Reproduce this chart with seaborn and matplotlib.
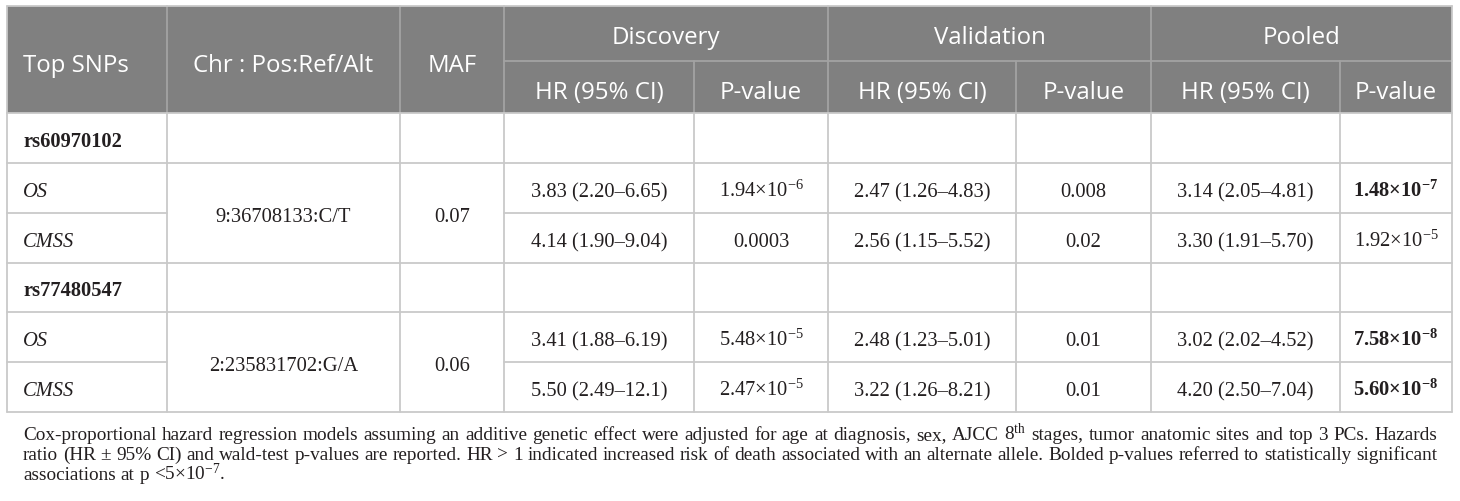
import matplotlib
matplotlib.use("Agg")
import matplotlib.pyplot as plt
import seaborn as sns
from matplotlib.patches import Rectangle

# ---------------------------------------------------------
# Data
# ---------------------------------------------------------
first_headers = ["Top SNPs", "Chr : Pos:Ref/Alt", "MAF"]
groups = ["Discovery", "Validation", "Pooled"]
sub_headers = ["HR (95% CI)", "P-value"]

snps = ["rs60970102", "rs77480547"]
positions = ["9:36708133:C/T", "2:235831702:G/A"]
maf = ["0.07", "0.06"]
outcomes = ["OS", "CMSS"]

# one entry per (snp, outcome): rs1 OS, rs1 CMSS, rs2 OS, rs2 CMSS
disc_hr = ["3.83 (2.20–6.65)", "4.14 (1.90–9.04)", "3.41 (1.88–6.19)", "5.50 (2.49–12.1)"]
disc_p = ["1.94×10^-6", "0.0003", "5.48×10^-5", "2.47×10^-5"]
val_hr = ["2.47 (1.26–4.83)", "2.56 (1.15–5.52)", "2.48 (1.23–5.01)", "3.22 (1.26–8.21)"]
val_p = ["0.008", "0.02", "0.01", "0.01"]
pool_hr = ["3.14 (2.05–4.81)", "3.30 (1.91–5.70)", "3.02 (2.02–4.52)", "4.20 (2.50–7.04)"]
pool_p = ["1.48×10^-7", "1.92×10^-5", "7.58×10^-8", "5.60×10^-8"]
pool_bold = [True, False, True, True]

footnote = [
    "Cox-proportional hazard regression models assuming an additive genetic effect were adjusted for age at "
    "diagnosis, sex, AJCC 8^th stages, tumor anatomic sites and top 3 PCs. Hazards",
    "ratio (HR ± 95% CI) and wald-test p-values are reported. HR > 1 indicated increased risk of death "
    "associated with an alternate allele. Bolded p-values referred to statistically significant",
    "associations at p <5×10^-7.",
]

# ---------------------------------------------------------
# Style
# ---------------------------------------------------------
sns.set_style("white")
plt.rcParams["mathtext.fontset"] = "custom"
plt.rcParams["mathtext.rm"] = "Liberation Serif"
plt.rcParams["mathtext.it"] = "Liberation Serif:italic"
plt.rcParams["mathtext.bf"] = "Liberation Serif:bold"

HEAD_BG = "#808080"
HEAD_LINE = "#a3a3a3"
GRID = "#c9c9c9"
INK = "#231f20"
SANS = "Open Sans"
SERIF = "Liberation Serif"


def sup(s, bold=False):
    # "1.94×10^-6" -> mathtext superscript
    if "^" not in s:
        return s
    base, exp = s.split("^", 1)
    tail = "." if exp.endswith(".") else ""
    exp = exp.rstrip(".")
    if bold:
        return base + r"$^{\mathbf{" + exp + "}}$" + tail
    return base + r"$^{\mathrm{" + exp + "}}$" + tail


# layout (pixel units)
col_x = [7, 167, 400, 504, 694, 828, 1016, 1151, 1340, 1452]
row_y = [114, 164, 214, 264, 313, 363, 413]
top, mid = 7, 62

fig = plt.figure(figsize=(14.6, 5.02), dpi=100)
ax = fig.add_axes([0, 0, 1, 1])
ax.set_xlim(0, 1460)
ax.set_ylim(502, 0)
ax.axis("off")

# ---------------------------------------------------------
# Header
# ---------------------------------------------------------
ax.add_patch(Rectangle((col_x[0], top), col_x[-1] - col_x[0], row_y[0] - top,
                       fc=HEAD_BG, ec="none", zorder=1))
for i in [1, 2, 3, 5, 7]:
    ax.plot([col_x[i]] * 2, [top, row_y[0]], color=HEAD_LINE, lw=1.3, zorder=2)
for i in [4, 6, 8]:
    ax.plot([col_x[i]] * 2, [mid, row_y[0]], color=HEAD_LINE, lw=1.3, zorder=2)
ax.plot([col_x[3], col_x[-1]], [mid, mid], color=HEAD_LINE, lw=1.3, zorder=2)
ax.plot([col_x[0], col_x[-1]], [top, top], color=GRID, lw=1.3, zorder=2)

hkw = dict(color="white", fontsize=17.3, family=SANS, va="baseline", zorder=3)
ax.text(23, 72, first_headers[0], ha="left", **hkw)
for j in [1, 2]:
    ax.text((col_x[j] + col_x[j + 1]) / 2, 72, first_headers[j], ha="center", **hkw)
for g, name in enumerate(groups):
    x0, x1 = col_x[3 + 2 * g], col_x[5 + 2 * g]
    ax.text((x0 + x1) / 2, 44, name, ha="center", **hkw)
    for k, sh in enumerate(sub_headers):
        a, b = col_x[3 + 2 * g + k], col_x[4 + 2 * g + k]
        ax.text((a + b) / 2, 99, sh, ha="center", **hkw)

# ---------------------------------------------------------
# Body grid
# ---------------------------------------------------------
for i, y in enumerate(row_y):
    if i in (2, 5):
        ax.plot([col_x[0], col_x[1]], [y, y], color=GRID, lw=1.3)
        ax.plot([col_x[3], col_x[-1]], [y, y], color=GRID, lw=1.3)
    else:
        ax.plot([col_x[0], col_x[-1]], [y, y], color=GRID, lw=1.3)
for x in col_x:
    ax.plot([x, x], [row_y[0], row_y[-1]], color=GRID, lw=1.3)
ax.plot([col_x[0]] * 2, [top, row_y[0]], color=GRID, lw=1.3)
ax.plot([col_x[-1]] * 2, [top, row_y[0]], color=GRID, lw=1.3)

# ---------------------------------------------------------
# Body text
# ---------------------------------------------------------
bkw = dict(color=INK, fontsize=14.8, family=SERIF, va="baseline")
cols = [disc_hr, disc_p, val_hr, val_p, pool_hr, pool_p]
for s, snp in enumerate(snps):
    r0 = 3 * s
    yc = (row_y[r0] + row_y[r0 + 1]) / 2
    ax.text(23, yc + 8, snp, ha="left", fontweight="bold", **bkw)
    ymerge = row_y[r0 + 2]
    ax.text((col_x[1] + col_x[2]) / 2, ymerge + 8, positions[s], ha="center", **bkw)
    ax.text((col_x[2] + col_x[3]) / 2, ymerge + 8, maf[s], ha="center", **bkw)
    for o, out in enumerate(outcomes):
        r = r0 + 1 + o
        yc = (row_y[r] + row_y[r + 1]) / 2
        ax.text(23, yc + 8, out, ha="left", style="italic", **bkw)
        idx = 2 * s + o
        for c, vals in enumerate(cols):
            bold = (c == 5 and pool_bold[idx])
            ax.text((col_x[3 + c] + col_x[4 + c]) / 2, yc + 8, sup(vals[idx], bold),
                    ha="center", fontweight="bold" if bold else "normal", **bkw)

# ---------------------------------------------------------
# Footnote (justified lines, size chosen so spaces look natural)
# ---------------------------------------------------------
renderer = fig.canvas.get_renderer()
x_left, x_right = 23, 1437
s0 = 14.0
words1 = footnote[0].split(" ")
probe = [ax.text(0, 0, sup(w), fontsize=s0, family=SERIF) for w in words1]
w0 = sum(t.get_window_extent(renderer).width for t in probe)
for t in probe:
    t.remove()
px_per_pt = 100 / 72
fsize = (x_right - x_left) / (w0 / s0 + (len(words1) - 1) * 0.25 * px_per_pt)

fkw = dict(color=INK, fontsize=fsize, family=SERIF, va="baseline", ha="left")
for n, line in enumerate(footnote):
    y = 440 + 20 * n
    words = line.split(" ")
    texts = [ax.text(x_left, y, sup(w), **fkw) for w in words]
    widths = [t.get_window_extent(renderer).width for t in texts]
    if n < len(footnote) - 1:
        space = (x_right - x_left - sum(widths)) / (len(words) - 1)
    else:
        space = 0.25 * fsize * px_per_pt
    x = x_left
    for t, w in zip(texts, widths):
        t.set_x(x)
        x += w + space

fig.savefig("out.png", dpi=100)
